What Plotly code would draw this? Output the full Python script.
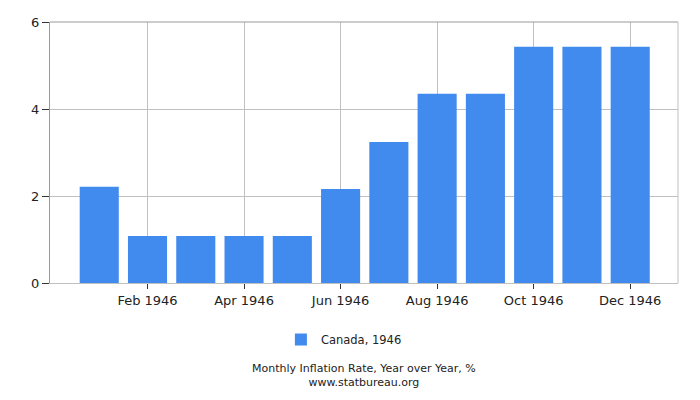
import plotly.graph_objects as go

# data
months = ["Jan 1946", "Feb 1946", "Mar 1946", "Apr 1946", "May 1946", "Jun 1946",
          "Jul 1946", "Aug 1946", "Sep 1946", "Oct 1946", "Nov 1946", "Dec 1946"]
inflation = [2.21, 1.08, 1.08, 1.08, 1.08, 2.16, 3.24, 4.35, 4.35, 5.43, 5.43, 5.43]
tick_months = ["Feb 1946", "Apr 1946", "Jun 1946", "Aug 1946", "Oct 1946", "Dec 1946"]
y_ticks = [0, 2, 4, 6]

fig = go.Figure()
fig.add_trace(go.Bar(
    x=months,
    y=inflation,
    name="Canada, 1946",
    marker=dict(color="#428bee", line=dict(width=0)),
    width=0.81,
))

# the page body adds 8px around the figure, so the figure is a bit smaller
fig.update_layout(
    width=692,
    height=392,
    margin=dict(l=42, r=22, t=14, b=117),
    paper_bgcolor="white",
    plot_bgcolor="white",
    font=dict(family="DejaVu Sans", size=13, color="#222222"),
    showlegend=True,
    legend=dict(
        orientation="h",
        x=0.468, xanchor="center",
        y=-0.161, yanchor="top",
        font=dict(size=11.5),
    ),
)

fig.update_xaxes(
    type="category",
    range=[-1.02, 11.99],
    tickmode="array",
    tickvals=tick_months,
    ticktext=tick_months,
    ticks="outside",
    ticklen=5,
    tickcolor="#333333",
    showgrid=True,
    gridcolor="#c0c0c0",
    gridwidth=1,
    showline=True,
    linecolor="#c0c0c0",
    zeroline=False,
    automargin=False,
)

fig.update_yaxes(
    range=[0, 6],
    tickmode="array",
    tickvals=y_ticks,
    ticks="outside",
    ticklen=7,
    tickcolor="#333333",
    showgrid=True,
    gridcolor="#c0c0c0",
    gridwidth=1,
    showline=True,
    linecolor="#999999",
    zeroline=False,
    automargin=False,
)

# border on top and right
fig.add_shape(type="line", xref="paper", yref="paper", x0=0, x1=1, y0=1, y1=1,
              line=dict(color="#999999", width=1))
fig.add_shape(type="line", xref="paper", yref="paper", x0=1, x1=1, y0=0, y1=1,
              line=dict(color="#c0c0c0", width=1))

fig.add_annotation(
    text="Monthly Inflation Rate, Year over Year, %<br>www.statbureau.org",
    xref="paper", yref="paper",
    x=0.5, y=-0.356, xanchor="center", yanchor="middle",
    showarrow=False,
    font=dict(size=11, color="#222222"),
)

fig.write_html("out.html")
